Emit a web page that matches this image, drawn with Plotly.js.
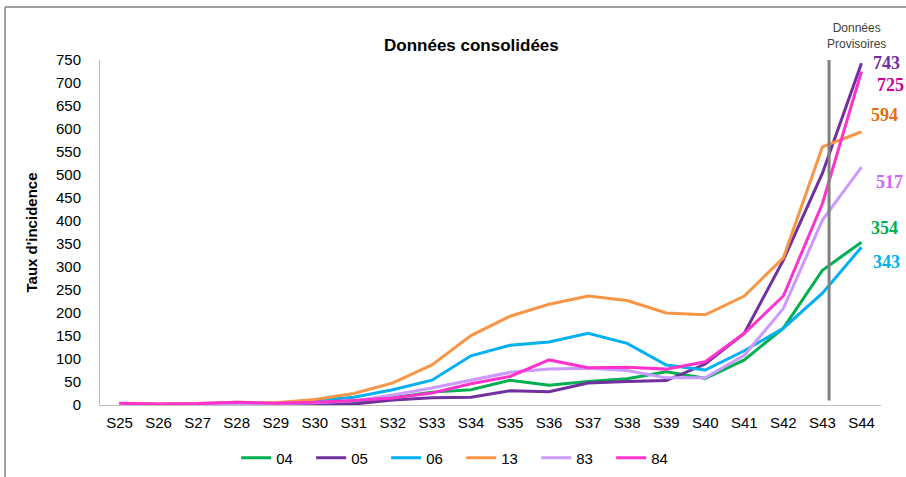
<!DOCTYPE html>
<html>
<head>
<meta charset="utf-8">
<script src="https://cdn.plot.ly/plotly-3.0.1.min.js"></script>
<style>html,body{margin:0;padding:0;background:#fff;}#chart{width:906px;height:477px;}</style>
</head>
<body>
<div id="chart"></div>
<script>
// ---- data ----
const weeks = ["S25","S26","S27","S28","S29","S30","S31","S32","S33","S34","S35","S36","S37","S38","S39","S40","S41","S42","S43","S44"];
const seriesNames = ["04","05","06","13","83","84"];
const s04 = [2,1,2,4,3,4,5,16,28,33,54,43,51,57,72,58,98,167,293,354];
const s05 = [2,1,2,3,2,2,2,11,16,17,31,29,48,51,53,89,156,315,504,743];
const s06 = [3,1,2,4,3,9,17,33,54,107,130,137,156,134,87,76,118,167,243,343];
const s13 = [3,2,3,6,5,12,25,48,87,151,193,219,237,227,200,196,237,320,561,594];
const s83 = [2,1,2,4,3,5,9,22,37,54,71,78,80,75,59,59,108,210,402,517];
const s84 = [4,2,3,6,4,6,10,15,26,46,62,98,81,82,78,94,156,237,438,725];
const yTicks = [0,50,100,150,200,250,300,350,400,450,500,550,600,650,700,750];

// ---- styles ----
const values = [s04,s05,s06,s13,s83,s84];
const lineColors = ["#00B050","#7030A0","#00B0F0","#F79646","#CC99FF","#FF33CC"];
const labelColors = ["#00B050","#7030A0","#00B0F0","#E46C0A","#CC66FF","#CC0099"];
// label positions in paper coords (x, y)
const labelPos = [[0.985,0.513],[0.987,0.991],[0.987,0.414],[0.985,0.841],[0.991,0.646],[0.992,0.928]];

const traces = seriesNames.map((n,i)=>({
  x: weeks, y: values[i], name: n, type:'scatter', mode:'lines',
  line:{color:lineColors[i], width:3}, hoverinfo:'skip'
}));

const annotations = [
  {text:'<b>Données consolidées</b>', xref:'paper', yref:'paper', x:0.476, y:1.043,
   xanchor:'center', yanchor:'middle',
   showarrow:false, font:{family:'Liberation Sans, Arial', size:17, color:'#000'}},
  {text:'Données<br>Provisoires', xref:'paper', yref:'paper', x:0.968, y:1.071,
   xanchor:'center', yanchor:'middle',
   showarrow:false, font:{family:'Liberation Sans, Arial', size:12, color:'#404040'}, align:'center'}
];
seriesNames.forEach((n,i)=>{
  annotations.push({text:'<b>'+values[i][values[i].length-1]+'</b>', xref:'paper', yref:'paper',
    x:labelPos[i][0], y:labelPos[i][1], xanchor:'left', yanchor:'middle', showarrow:false,
    font:{family:'Liberation Serif, DejaVu Serif, serif', size:18, color:labelColors[i]}});
});

const layout = {
  width:906, height:477,
  margin:{l:100, r:25, t:60, b:72, pad:0},
  paper_bgcolor:'#fff', plot_bgcolor:'#fff',
  showlegend:true,
  legend:{orientation:'h', xref:'container', yref:'container', x:0.509, xanchor:'center', y:0.04, yanchor:'middle',
    font:{family:'Liberation Sans, Arial', size:15, color:'#000'}, entrywidth:30, entrywidthmode:'pixels'},
  xaxis:{type:'category', range:[-0.5,19.5], showgrid:false, zeroline:false, automargin:false,
    showline:true, linecolor:'#BFBFBF', linewidth:1, ticks:'outside', ticklen:4, tickcolor:'rgba(0,0,0,0)', fixedrange:true,
    tickfont:{family:'Liberation Sans, Arial', size:15, color:'#000'}},
  yaxis:{range:[0,750], tickvals:yTicks, showgrid:false, zeroline:false, automargin:false,
    showline:true, linecolor:'#BFBFBF', linewidth:1,
    ticks:'outside', ticklen:15, tickcolor:'rgba(0,0,0,0)', fixedrange:true,
    tickfont:{family:'Liberation Sans, Arial', size:15, color:'#000'},
    title:{text:'<b>Taux d\'incidence</b>', standoff:14, font:{family:'Liberation Sans, Arial', size:15, color:'#000'}}},
  shapes:[
    {type:'line', xref:'x', yref:'y', x0:18.17, x1:18.17, y0:10, y1:750, line:{color:'#808080', width:3}},
    {type:'line', xref:'paper', yref:'paper', x0:-0.1216, x1:1.04, y0:1.1536, y1:1.1536, line:{color:'#A0A0A0', width:2}},
    {type:'line', xref:'paper', yref:'paper', x0:-0.1216, x1:-0.1216, y0:1.1536, y1:-0.22, line:{color:'#A0A0A0', width:2}}
  ],
  annotations: annotations
};

Plotly.newPlot('chart', traces, layout, {displayModeBar:false, staticPlot:true});
</script>
</body>
</html>
